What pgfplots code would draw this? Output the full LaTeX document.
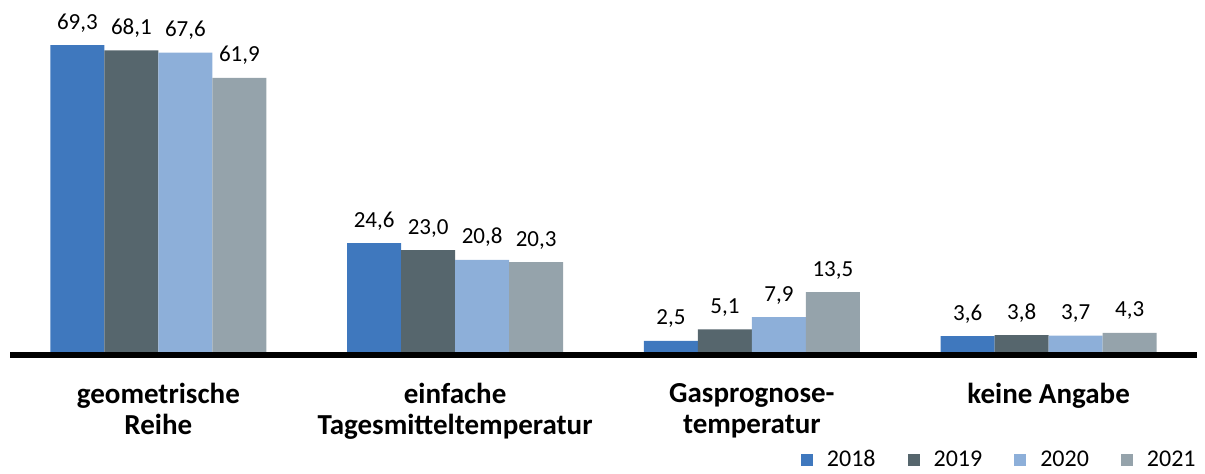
\documentclass[border=0pt]{standalone}
\usepackage{fontspec}
\setmainfont{Carlito}
\usepackage{pgfplots}
\pgfplotsset{compat=1.18}

\definecolor{c18}{HTML}{3F78BE}
\definecolor{c19}{HTML}{56666D}
\definecolor{c20}{HTML}{8DAFD9}
\definecolor{c21}{HTML}{95A3AB}

\begin{document}
\begin{tikzpicture}
\begin{axis}[
    scale only axis,
    width=593.5pt,
    height=166.1pt,
    ymin=0, ymax=75,
    xmin=-0.5, xmax=3.5,
    ybar=0pt,
    bar width=27pt,
    axis line style={draw=none},
    ytick=\empty,
    xtick={0,1,2,3},
    xticklabels={geometrische\\Reihe, einfache\\Tagesmitteltemperatur, Gasprognose-\\temperatur, keine Angabe},
    major tick length=0pt,
    xticklabel style={font=\bfseries\fontsize{14.5}{15.5}\selectfont, align=center, yshift=-12pt},
    clip=false,
    /pgf/number format/.cd, fixed, fixed zerofill, precision=1, use comma, assume math mode=true,
    /pgfplots/.cd,
    nodes near coords,
    nodes near coords style={font=\fontsize{11.5}{13}\selectfont, text=black, yshift=3pt},
    legend columns=4,
    legend style={at={(1,0)}, anchor=south east, xshift=1.5pt, yshift=-61pt,
        draw=none, font=\fontsize{12}{13}\selectfont, inner sep=0pt,
        /tikz/every odd column/.append style={column sep=5pt},
        /tikz/every even column/.append style={column sep=14pt}},
    legend image code/.code={\fill[#1] (0pt,-3pt) rectangle (6pt,3pt);},
]
\addplot[fill=c18, draw=none] coordinates {(0,69.3) (1,24.6) (2,2.5) (3,3.6)};
\addplot[fill=c19, draw=none] coordinates {(0,68.1) (1,23.0) (2,5.1) (3,3.8)};
\addplot[fill=c20, draw=none] coordinates {(0,67.6) (1,20.8) (2,7.9) (3,3.7)};
\addplot[fill=c21, draw=none] coordinates {(0,61.9) (1,20.3) (2,13.5) (3,4.3)};
\legend{2018, 2019, 2020, 2021}
\draw[line width=3pt] ([yshift=-1.5pt]axis cs:-0.5,0) -- ([yshift=-1.5pt]axis cs:3.5,0);
\end{axis}
\pgfresetboundingbox
\path[use as bounding box] (-5pt,-60.5pt) rectangle (597.5pt,176pt);
\end{tikzpicture}
\end{document}
